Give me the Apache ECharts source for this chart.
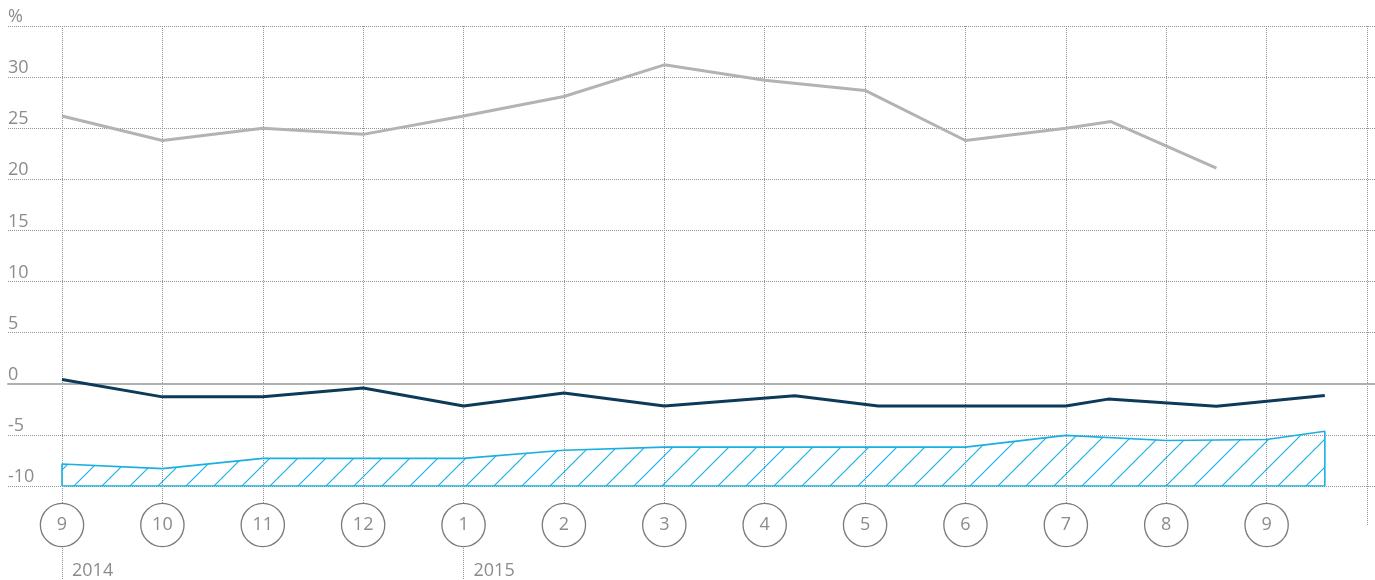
<!DOCTYPE html>
<html>
<head>
<meta charset="utf-8">
<script src="https://cdn.jsdelivr.net/npm/echarts@6/dist/echarts.min.js"></script>
<style>
html, body { margin: 0; padding: 0; background: #fff; }
#chart1 { width: 1375px; height: 580px; }
</style>
</head>
<body>
<div id="chart1"></div>
<script>
// month ticks (last slot is the right border line, no circle)
var months = ['9', '10', '11', '12', '1', '2', '3', '4', '5', '6', '7', '8', '9', ''];
var years = ['2014', '', '', '', '2015', '', '', '', '', '', '', '', '', ''];
var yLabels = ['-10', '-5', '0', '5', '10', '15', '20', '25', '30', '%'];

// x = months since 9/2014
var grayX = [0, 1, 2, 3, 4, 5, 6, 7, 8, 9, 10, 10.45, 11.5];
var grayY = [26.2, 23.8, 25.0, 24.4, 26.2, 28.1, 31.2, 29.7, 28.7, 23.8, 25.0, 25.65, 21.1];

var darkX = [0, 1, 2, 3, 4, 5, 6, 7.3, 8.13, 9, 10, 10.42, 11.5, 12.58];
var darkY = [0.42, -1.28, -1.28, -0.41, -2.17, -0.9, -2.17, -1.18, -2.17, -2.17, -2.17, -1.5, -2.2, -1.15];

var blueX = [0, 1, 2, 3, 4, 5, 6, 7, 8, 9, 10, 11, 12, 12.58];
var blueY = [-7.85, -8.3, -7.3, -7.3, -7.3, -6.5, -6.2, -6.2, -6.2, -6.2, -5.05, -5.55, -5.45, -4.65];
var blueBase = -10;

var textColor = '#8c8c8c';
var gridColor = '#939393';
var fontFamily = '"Open Sans", "Noto Sans", sans-serif';

function pairs(xs, ys) {
    var out = [];
    for (var i = 0; i < xs.length; i++) {
        out.push([xs[i], ys[i]]);
    }
    return out;
}

function hatch() {
    var c = document.createElement('canvas');
    c.width = 28;
    c.height = 28;
    var ctx = c.getContext('2d');
    ctx.strokeStyle = '#1cb2e4';
    ctx.lineWidth = 1.2;
    [-28, 0, 28].forEach(function (k) {
        ctx.beginPath();
        ctx.moveTo(k - 2, 30);
        ctx.lineTo(k + 30, -2);
        ctx.stroke();
    });
    return c;
}

function notEmpty(index, value) {
    return value !== '';
}

function setchart(chartName) {
    var myChart = echarts.init(document.getElementById(chartName));
    var outline = [[blueX[0], blueBase]].concat(pairs(blueX, blueY));
    outline.push([blueX[blueX.length - 1], blueBase]);
    outline.push([blueX[0], blueBase]);

    var option = {
        animation: false,
        grid: [
            {left: 8, right: 0, top: 26, height: 460},   // horizontal lines + y labels
            {left: 62, right: 8, top: 26, height: 500},  // month lines, circles, years
            {left: 62, right: 8, top: 26, height: 460}   // data
        ],
        xAxis: [
            {
                gridIndex: 0, type: 'value', min: 0, max: 1,
                axisLine: {show: true, onZero: true, lineStyle: {color: '#b0b0b0', width: 2}},
                axisTick: {show: false}, axisLabel: {show: false}, splitLine: {show: false}
            },
            {
                gridIndex: 1, type: 'category', data: months, boundaryGap: false,
                axisLine: {show: false}, axisTick: {show: false},
                splitLine: {show: true, interval: 0, lineStyle: {type: 'dotted', color: gridColor, width: 1}},
                axisLabel: {
                    interval: notEmpty, margin: -1, color: textColor, fontSize: 18, fontFamily: fontFamily,
                    width: 42, height: 42, lineHeight: 42, align: 'center',
                    verticalAlign: 'middle', borderColor: '#7a7a7a', borderWidth: 1.3,
                    borderRadius: 22, backgroundColor: '#fff'
                }
            },
            {
                gridIndex: 1, type: 'category', data: years, boundaryGap: false, position: 'bottom', offset: 22,
                axisLine: {show: false},
                axisTick: {show: true, interval: notEmpty, length: 32, lineStyle: {type: 'dotted', color: gridColor}},
                axisLabel: {
                    interval: notEmpty, margin: 23, align: 'left', verticalAlign: 'middle',
                    padding: [0, 0, 0, 10], color: textColor, fontSize: 18, fontFamily: fontFamily
                },
                splitLine: {show: false}
            },
            {gridIndex: 2, type: 'value', min: 0, max: 13, show: false}
        ],
        yAxis: [
            {
                gridIndex: 0, type: 'value', min: -10, max: 35, interval: 5,
                axisLine: {show: false}, axisTick: {show: false},
                axisLabel: {
                    inside: true, margin: 0, verticalAlign: 'bottom', lineHeight: 18,
                    color: textColor, fontSize: 18, fontFamily: fontFamily,
                    formatter: function (v) { return yLabels[Math.round((v + 10) / 5)]; }
                },
                splitLine: {show: true, lineStyle: {type: 'dotted', color: gridColor, width: 1}}
            },
            {gridIndex: 1, type: 'value', min: -14, max: 35, show: false},
            {gridIndex: 2, type: 'value', min: -10, max: 35, show: false}
        ],
        series: [
            {
                type: 'line', xAxisIndex: 3, yAxisIndex: 2, data: pairs(blueX, blueY),
                symbol: 'none', lineStyle: {width: 0},
                areaStyle: {origin: 'start', opacity: 1, color: {image: hatch(), repeat: 'repeat'}}
            },
            {
                type: 'line', xAxisIndex: 3, yAxisIndex: 2, data: outline,
                symbol: 'none', lineStyle: {color: '#1aafe1', width: 1.6}
            },
            {
                type: 'line', xAxisIndex: 3, yAxisIndex: 2, data: pairs(grayX, grayY),
                symbol: 'none', lineStyle: {color: '#b3b3b3', width: 3}
            },
            {
                type: 'line', xAxisIndex: 3, yAxisIndex: 2, data: pairs(darkX, darkY),
                symbol: 'none', lineStyle: {color: '#0e3a5a', width: 3}
            }
        ]
    };
    myChart.setOption(option);
}

setchart('chart1');
</script>
</body>
</html>
